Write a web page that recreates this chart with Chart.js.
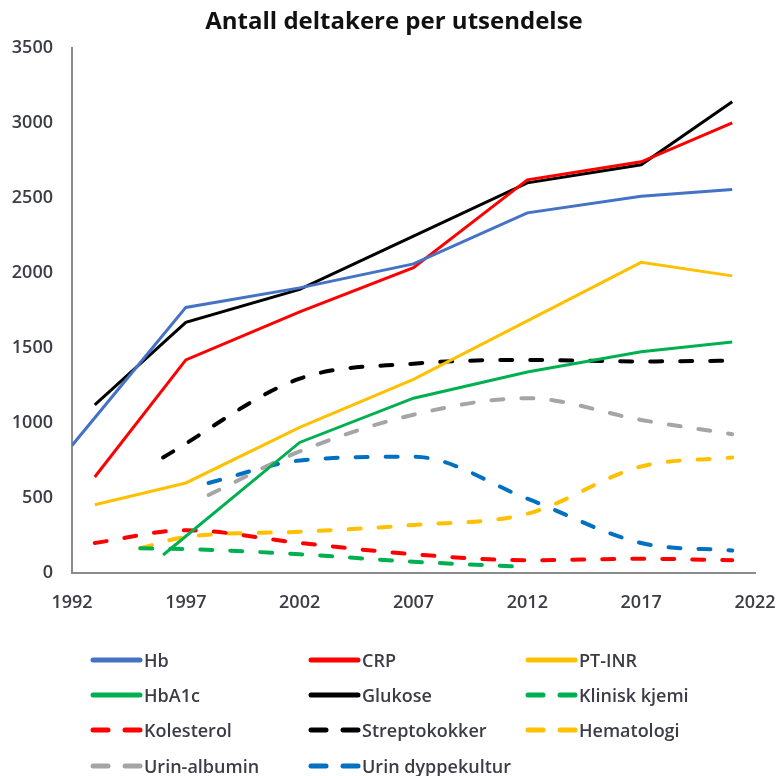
<!DOCTYPE html>
<html>
<head>
<meta charset="utf-8">
<script src="https://cdn.jsdelivr.net/npm/chart.js@4"></script>
<style>
    body { margin: 0; background: #fff; }
    #wrap { position: relative; width: 777px; height: 776px; }
    #chartBox { position: absolute; left: 0; top: 0; width: 777px; height: 640px; }
    #legend { position: absolute; left: 0; top: 0; width: 777px; height: 776px; pointer-events: none; }
    .item { position: absolute; display: flex; align-items: center; height: 26px;
            font-family: "Open Sans", sans-serif; font-size: 18px; font-weight: 600; color: #3c3c46; }
    .item svg { margin-right: 1px; }
</style>
</head>
<body>
<div id="wrap">
    <div id="chartBox"><canvas id="deltakerChart"></canvas></div>
    <div id="legend"></div>
</div>
<script>
// utsendelser per år
const hbYears = [1992, 1997, 2002, 2007, 2012, 2017, 2021];
const hbValues = [850, 1770, 1900, 2060, 2400, 2510, 2555];

const crpYears = [1993, 1997, 2002, 2007, 2012, 2017, 2021];
const crpValues = [640, 1420, 1740, 2035, 2620, 2740, 3000];

const ptinrYears = [1993, 1997, 2002, 2007, 2012, 2017, 2021];
const ptinrValues = [455, 600, 970, 1290, 1680, 2070, 1980];

const hba1cYears = [1996, 2002, 2007, 2012, 2017, 2021];
const hba1cValues = [120, 870, 1165, 1340, 1475, 1540];

const glukoseYears = [1993, 1997, 2002, 2007, 2012, 2017, 2021];
const glukoseValues = [1120, 1670, 1890, 2245, 2600, 2720, 3140];

const kjemiYears = [1995, 1997, 2002, 2007, 2012];
const kjemiValues = [165, 160, 125, 75, 40];

const kolesterolYears = [1993, 1997, 2002, 2007, 2012, 2017, 2021];
const kolesterolValues = [200, 285, 200, 125, 85, 95, 85];

const streptoYears = [1996, 2002, 2007, 2012, 2017, 2021];
const streptoValues = [770, 1295, 1395, 1420, 1410, 1415];

const hematologiYears = [1995, 1997, 2002, 2007, 2012, 2017, 2021];
const hematologiValues = [165, 240, 275, 320, 395, 710, 770];

const albuminYears = [1998, 2002, 2007, 2012, 2017, 2021];
const albuminValues = [520, 810, 1055, 1165, 1020, 925];

const dyppYears = [1998, 2002, 2007, 2012, 2017, 2021];
const dyppValues = [600, 750, 775, 495, 200, 150];

const xTicks = [1992, 1997, 2002, 2007, 2012, 2017, 2022];
const yTicks = [0, 500, 1000, 1500, 2000, 2500, 3000, 3500];

const pairs = (years, values) => years.map((y, i) => ({ x: y, y: values[i] }));

const solid = (label, color, years, values) => ({
    label, data: pairs(years, values), borderColor: color, backgroundColor: color,
    borderWidth: 3, pointRadius: 0, dashed: false
});
const dashed = (label, color, years, values) => ({
    label, data: pairs(years, values), borderColor: color, backgroundColor: color,
    borderWidth: 4, borderDash: [12, 18], borderCapStyle: "round",
    pointRadius: 0, dashed: true, cubicInterpolationMode: "monotone"
});

const datasets = [
    solid("Hb", "#4472C4", hbYears, hbValues),
    solid("CRP", "#FF0000", crpYears, crpValues),
    solid("PT-INR", "#FFC000", ptinrYears, ptinrValues),
    solid("HbA1c", "#00B050", hba1cYears, hba1cValues),
    solid("Glukose", "#000000", glukoseYears, glukoseValues),
    dashed("Klinisk kjemi", "#00B050", kjemiYears, kjemiValues),
    dashed("Kolesterol", "#FF0000", kolesterolYears, kolesterolValues),
    dashed("Streptokokker", "#000000", streptoYears, streptoValues),
    dashed("Hematologi", "#FFC000", hematologiYears, hematologiValues),
    dashed("Urin-albumin", "#A5A5A5", albuminYears, albuminValues),
    dashed("Urin dyppekultur", "#0070C0", dyppYears, dyppValues)
];

const tickFont = { family: "Open Sans", size: 18, weight: "600" };

const ctx = document.getElementById("deltakerChart").getContext("2d");
window.deltakerChart = new Chart(ctx, {
    type: "line",
    data: { datasets },
    options: {
        responsive: true,
        maintainAspectRatio: false,
        animation: false,
        layout: { padding: { left: 11, right: 0, top: 0, bottom: 27 } },
        scales: {
            x: {
                type: "linear",
                min: xTicks[0],
                max: xTicks[xTicks.length - 1],
                afterBuildTicks: axis => { axis.ticks = xTicks.map(v => ({ value: v })); },
                afterFit: axis => {
                    axis.height = 40;
                    axis.paddingLeft = 0;
                    axis.paddingRight = 22;
                },
                grid: { display: false, drawTicks: false },
                border: { display: true, color: "#8c8c8c", width: 2 },
                ticks: { font: tickFont, color: "#3c3c46", padding: 19, maxRotation: 0, callback: v => String(v) }
            },
            y: {
                min: yTicks[0],
                max: yTicks[yTicks.length - 1],
                afterBuildTicks: axis => { axis.ticks = yTicks.map(v => ({ value: v })); },
                afterFit: axis => {
                    axis.width = 61;
                    axis.paddingTop = 0;
                    axis.paddingBottom = 0;
                },
                grid: { display: false, drawTicks: false },
                border: { display: true, color: "#8c8c8c", width: 2 },
                ticks: { font: tickFont, color: "#3c3c46", padding: 19, callback: v => String(v) }
            }
        },
        plugins: {
            legend: { display: false },
            tooltip: { enabled: false },
            title: {
                display: true,
                text: "Antall deltakere per utsendelse",
                color: "#111",
                font: { family: "Open Sans", size: 24, weight: "bold" },
                padding: { top: 8, bottom: 11 }
            }
        }
    }
});

// tre kolonner med forklaring under diagrammet
const legendEl = document.getElementById("legend");
const colX = [90, 308, 525];
const rowY = [660, 695, 730, 766];
datasets.forEach((ds, i) => {
    const item = document.createElement("div");
    item.className = "item";
    item.style.left = colX[i % 3] + "px";
    item.style.top = (rowY[Math.floor(i / 3)] - 13) + "px";
    const line = ds.dashed
        ? `<line x1="3" y1="4" x2="18" y2="4" /><line x1="35" y1="4" x2="50" y2="4" />`
        : `<line x1="3" y1="4" x2="50" y2="4" />`;
    item.innerHTML = `<svg width="53" height="8"><g stroke="${ds.borderColor}" stroke-width="5" stroke-linecap="round">${line}</g></svg><span>${ds.label}</span>`;
    legendEl.appendChild(item);
});
</script>
</body>
</html>
